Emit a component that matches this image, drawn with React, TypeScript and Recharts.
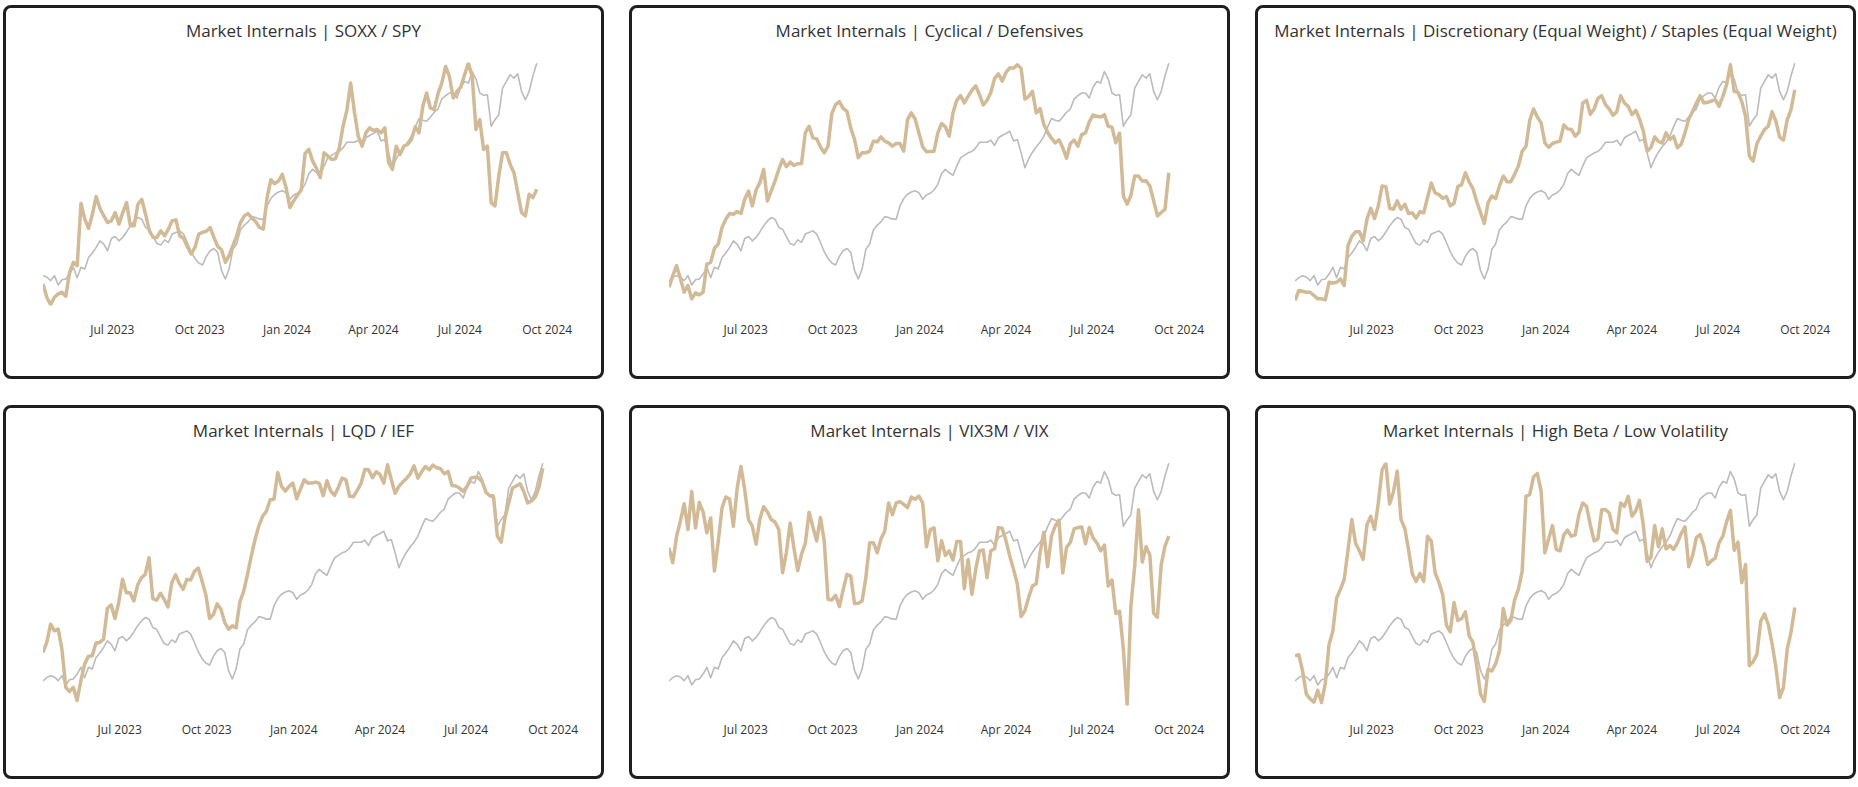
import React from 'react';
import { LineChart, Line, XAxis, YAxis } from 'recharts';

// ---- categories: one sample every STEP_DAYS calendar days from START_DATE ----
const START_DATE = '2023-04-11';
const STEP_DAYS = 4;
const AXIS_END_DATE = '2024-10-01';
const TICK_DATES = ['2023-07-01', '2023-10-01', '2024-01-01', '2024-04-01', '2024-07-01', '2024-10-01'];
const TICK_LABELS = ['Jul 2023', 'Oct 2023', 'Jan 2024', 'Apr 2024', 'Jul 2024', 'Oct 2024'];

const TITLES = [
  'Market Internals | SOXX / SPY',
  'Market Internals | Cyclical / Defensives',
  'Market Internals | Discretionary (Equal Weight) / Staples (Equal Weight)',
  'Market Internals | LQD / IEF',
  'Market Internals | VIX3M / VIX',
  'Market Internals | High Beta / Low Volatility',
];

// first sample index shown in each panel (SOXX / SPY history starts one week later)
const FIRST_SAMPLE = [2, 0, 0, 0, 0, 0];

// ---- benchmark (grey line, SPY close) ----
const SPY = [
  408.5, 411, 412.5, 411.5, 408.8, 412.5, 405.6, 409.5, 410, 413.7,
  418.7, 411, 418.7, 417.4, 426, 429.3, 433.5, 438.4, 436, 431,
  440.1, 441.6, 438.4, 440.9, 445, 449.5, 453.2, 455.7, 454.5, 448.3,
  447, 441.6, 436.4, 435.2, 439.1, 437.2, 443.4, 444.6, 445.8, 443.4,
  437.2, 430.3, 425.3, 421.9, 420.4, 426.8, 431, 432.7, 429.8, 416.2,
  410, 417.4, 432.2, 436, 446.6, 450, 452.5, 456.4, 455.7, 454.5,
  454.5, 464.3, 469.8, 473, 474.7, 475.7, 474.2, 469.3, 472.5, 473.7,
  476.2, 480.4, 488.5, 491.5, 489, 487.1, 494, 500.1, 501.9, 503.8,
  504.8, 507.5, 511.7, 511.7, 511.7, 513.2, 509.3, 515, 516.7, 518.2,
  519.9, 512.7, 513.7, 503.8, 492.7, 499.4, 504.3, 508.3, 511.7, 516.2,
  523.1, 529.3, 528, 527.3, 530.5, 534, 536.4, 543.8, 546.3, 548.3,
  548.3, 544.6, 552.7, 556.9, 555.7, 564.3, 558.7, 548.3, 546.6, 547,
  523.6, 528.5, 532.2, 552, 556.9, 561.9, 559.4, 562.6, 549.5, 543.3,
  549.5, 561.1, 570.5,
];

// ---- ratio series (tan lines), relative index points ----
const SOXX_SPY = [
  65, 25, 2, 25, 35, 40, 28, 100, 130, 120,
  308, 260, 232, 275, 328, 292, 270, 250, 255, 280,
  245, 280, 310, 240, 240, 305, 320, 275, 225, 205,
  205, 225, 210, 230, 255, 258, 210, 202, 178, 155,
  175, 215, 220, 224, 235, 205, 178, 168, 130, 150,
  180, 210, 250, 270, 277, 263, 253, 235, 230, 325,
  379, 367, 375, 395, 355, 295, 315, 333, 348, 458,
  470, 435, 413, 385, 460, 450, 440, 442, 474, 540,
  588, 670, 582, 510, 480, 520, 535, 527, 530, 520,
  535, 430, 410, 480, 455, 480, 485, 500, 538, 520,
  600, 640, 595, 590, 638, 670, 720, 690, 625, 645,
  658, 695, 730, 690, 530, 560, 470, 480, 310, 300,
  390, 460, 460, 425, 400, 340, 280, 270, 335, 325,
  350,
];

const CYCLICAL_DEFENSIVES = [
  55, 90, 120, 82, 40, 60, 20, 38, 32, 40,
  125, 130, 172, 185, 235, 260, 277, 275, 283, 277,
  320, 345, 300, 348, 370, 410, 315, 345, 375, 410,
  440, 418, 432, 422, 427, 428, 520, 540, 505, 502,
  478, 460, 480, 578, 605, 614, 594, 585, 535, 500,
  445, 460, 460, 465, 495, 493, 508, 495, 490, 480,
  488, 488, 465, 560, 580, 562, 520, 478, 463, 464,
  465, 520, 548, 538, 510, 580, 618, 632, 610, 630,
  648, 662, 635, 604, 618, 642, 684, 698, 676, 702,
  716, 715, 725, 714, 622, 630, 645, 580, 593, 545,
  522, 504, 490, 499, 475, 444, 488, 498, 480, 515,
  520, 553, 574, 570, 568, 575, 540, 537, 490, 519,
  330, 305, 332, 390, 390, 375, 376, 360, 315, 270,
  280, 290, 400,
];

const DISCRETIONARY_STAPLES = [
  15, 45, 43, 40, 40, 30, 20, 20, 17, 70,
  68, 70, 80, 60, 180, 208, 222, 222, 195, 260,
  293, 262, 300, 360, 358, 293, 290, 315, 290, 305,
  277, 279, 263, 283, 279, 325, 369, 339, 334, 323,
  328, 300, 308, 358, 364, 400, 372, 352, 313, 280,
  247, 310, 330, 322, 360, 390, 373, 373, 395, 420,
  465, 479, 558, 592, 568, 550, 490, 476, 488, 492,
  495, 544, 532, 530, 510, 522, 610, 618, 576, 592,
  624, 632, 605, 592, 573, 584, 632, 610, 600, 575,
  588, 561, 525, 465, 476, 508, 494, 489, 520, 500,
  510, 475, 486, 520, 562, 584, 610, 632, 610, 612,
  616, 620, 600, 630, 666, 725, 645, 642, 614, 570,
  450, 435, 488, 510, 530, 540, 584, 555, 507, 498,
  559, 590, 650,
];

const LQD_IEF = [
  160, 190, 245, 225, 230, 170, 55, 42, 55, 15,
  75, 125, 148, 150, 188, 190, 200, 293, 303, 262,
  310, 380, 340, 340, 315, 363, 385, 395, 445, 322,
  317, 338, 320, 297, 370, 394, 368, 350, 380, 378,
  404, 414, 375, 334, 262, 274, 306, 290, 250, 230,
  240, 234, 312, 344, 394, 450, 500, 541, 570, 585,
  620, 621, 702, 660, 646, 660, 670, 623, 652, 680,
  670, 670, 673, 669, 632, 677, 646, 633, 657, 685,
  680, 630, 629, 648, 669, 711, 710, 686, 704, 696,
  670, 725, 680, 639, 660, 673, 684, 698, 722, 685,
  704, 720, 710, 724, 716, 713, 698, 705, 663, 661,
  655, 645, 660, 685, 688, 686, 674, 642, 632, 628,
  510, 492, 564, 610, 655, 661, 668, 644, 610, 616,
  628, 658, 715,
];

const VIX3M_VIX = [
  475, 430, 510, 555, 608, 530, 645, 535, 612, 583,
  520, 565, 405, 494, 595, 628, 622, 540, 654, 720,
  650, 560, 540, 486, 562, 599, 583, 560, 553, 530,
  400, 460, 550, 474, 406, 456, 488, 582, 538, 496,
  566, 496, 320, 318, 332, 298, 349, 395, 390, 307,
  308, 315, 386, 490, 490, 460, 502, 526, 610, 575,
  610, 614, 606, 596, 628, 621, 631, 610, 478, 530,
  535, 436, 496, 452, 466, 438, 494, 494, 352, 440,
  335, 410, 466, 468, 385, 466, 472, 536, 534, 496,
  450, 410, 366, 268, 286, 326, 360, 367, 460, 522,
  418, 510, 540, 558, 399, 476, 492, 532, 536, 538,
  487, 536, 505, 490, 466, 483, 360, 378, 277, 284,
  170, 0, 300, 420, 590, 432, 478, 453, 278, 266,
  424, 480, 510,
];

const HIGHBETA_LOWVOL = [
  150, 153, 104, 34, 20, 10, 46, 9, 66, 184,
  224, 324, 350, 380, 468, 560, 489, 466, 440, 544,
  570, 530, 610, 710, 730, 607, 644, 706, 560, 534,
  468, 396, 374, 398, 374, 510, 495, 400, 371, 334,
  242, 222, 310, 256, 262, 282, 210, 190, 120, 34,
  12, 110, 104, 126, 165, 292, 242, 256, 318, 350,
  405, 630, 636, 688, 699, 646, 460, 502, 542, 470,
  466, 514, 528, 510, 514, 576, 610, 600, 544, 496,
  502, 590, 590, 580, 530, 520, 610, 600, 630, 570,
  586, 618, 542, 434, 446, 542, 478, 532, 472, 482,
  470, 490, 518, 538, 418, 451, 506, 515, 480, 424,
  436, 444, 490, 510, 554, 588, 468, 492, 370, 425,
  120, 132, 154, 254, 276, 244, 186, 116, 24, 54,
  170, 220, 295,
];

const RATIOS = [SOXX_SPY, CYCLICAL_DEFENSIVES, DISCRETIONARY_STAPLES, LQD_IEF, VIX3M_VIX, HIGHBETA_LOWVOL];

// ---- helpers ----
const dayOf = (s: string) => Math.round((Date.parse(s) - Date.parse(START_DATE)) / 86400000);
const TICK_DAYS = TICK_DATES.map(dayOf);
const AXIS_END = dayOf(AXIS_END_DATE);
const tickFmt = (v: number) => {
  const i = TICK_DAYS.indexOf(v);
  return i >= 0 ? TICK_LABELS[i] : '';
};

const SPY_DOMAIN: [number, number] = [390.3, 571];
const RATIO_DOMAIN: [number, number] = [0, 732];

const TAN = '#D3BA97';
const GREY = '#BBBBBB';
const FONT = '"Open Sans", "Noto Sans", sans-serif';

const COL_LEFT = [3, 629, 1255];
const ROW_TOP = [5, 405];
const PANEL_W = 601;
const PANEL_H = 374;
const BORDER = 3;
const MARGIN_RIGHT = [53.8, 47.8, 47.8, 47.8, 47.8, 47.8];

function Panel({ idx }: { idx: number }) {
  const ratio = RATIOS[idx];
  const first = FIRST_SAMPLE[idx];
  const data = SPY.slice(first).map((g, j) => ({ d: (first + j) * STEP_DAYS, g, r: ratio[j] }));
  const left = COL_LEFT[idx % 3];
  const top = ROW_TOP[Math.floor(idx / 3)];
  const innerW = PANEL_W - 2 * BORDER;
  const innerH = PANEL_H - 2 * BORDER;
  return (
    <div
      style={{
        position: 'absolute',
        left,
        top,
        width: PANEL_W,
        height: PANEL_H,
        border: `${BORDER}px solid #1e1e1e`,
        borderRadius: 8,
        boxSizing: 'border-box',
        background: '#fff',
        overflow: 'hidden',
      }}
    >
      <div
        style={{
          position: 'absolute',
          left: 0,
          right: 0,
          top: 11,
          textAlign: 'center',
          fontFamily: FONT,
          fontSize: 17,
          lineHeight: '24px',
          color: '#333',
          whiteSpace: 'nowrap',
        }}
      >
        {TITLES[idx]}
      </div>
      <div style={{ position: 'absolute', left: 0, top: 0 }}>
        <LineChart
          width={innerW}
          height={innerH}
          data={data}
          margin={{ top: 54.5, right: MARGIN_RIGHT[idx], bottom: 40.5, left: 37 }}
        >
          <XAxis
            dataKey="d"
            type="number"
            domain={[first * STEP_DAYS, AXIS_END]}
            ticks={TICK_DAYS}
            interval={0}
            tickFormatter={tickFmt}
            axisLine={false}
            tickLine={false}
            tickMargin={14}
            height={30}
            allowDataOverflow
            tick={{ fontSize: 12, fill: '#333', fontFamily: FONT }}
          />
          <YAxis yAxisId="g" hide domain={SPY_DOMAIN} allowDataOverflow />
          <YAxis yAxisId="r" hide domain={RATIO_DOMAIN} allowDataOverflow />
          <Line
            yAxisId="g"
            dataKey="g"
            stroke={GREY}
            strokeWidth={1.6}
            dot={false}
            strokeLinejoin="round"
            isAnimationActive={false}
          />
          <Line
            yAxisId="r"
            dataKey="r"
            stroke={TAN}
            strokeWidth={3.5}
            dot={false}
            strokeLinejoin="round"
            isAnimationActive={false}
          />
        </LineChart>
      </div>
    </div>
  );
}

export default function App() {
  return (
    <div style={{ position: 'absolute', left: 0, top: 0, width: 1858, height: 787, background: '#fff' }}>
      {[0, 1, 2, 3, 4, 5].map((i) => (
        <Panel key={i} idx={i} />
      ))}
    </div>
  );
}
